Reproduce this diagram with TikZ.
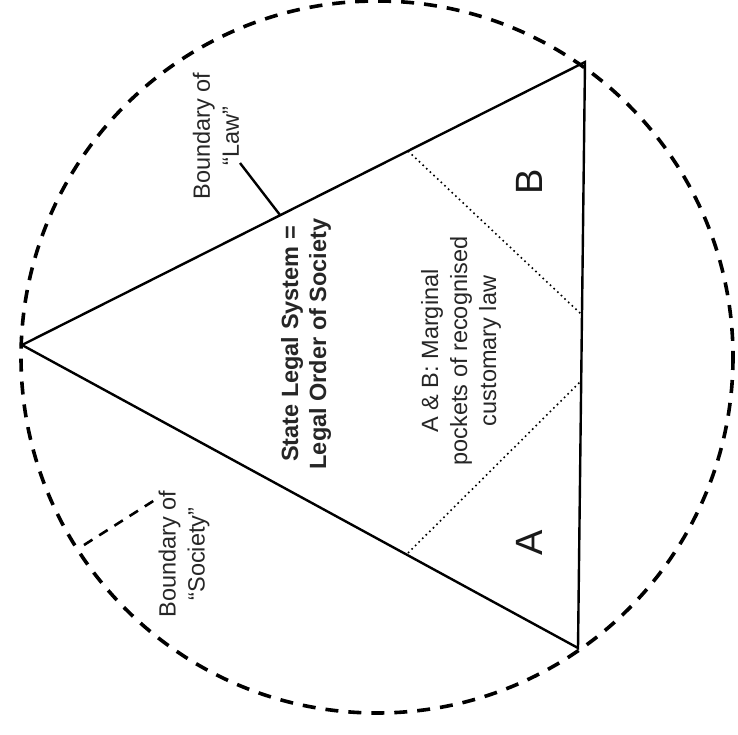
\documentclass[tikz,border=0pt]{standalone}
\usepackage{fontspec}
\setmainfont{Liberation Sans}
\begin{document}
\begin{tikzpicture}[x=1pt,y=-1pt,
  lbl/.style={rotate=90, align=center, text=black!85, inner sep=0pt,
    font=\fontsize{23.5}{29}\selectfont},
  boldlbl/.style={lbl, font=\fontsize{23.5}{28}\selectfont\bfseries},
  biglbl/.style={rotate=90, text=black!90, inner sep=0pt, font=\fontsize{38}{40}\selectfont},
  bigdash/.style={line width=3.6pt, dash pattern=on 13pt off 10pt},
  ptrdash/.style={line width=2.6pt, dash pattern=on 10pt off 8pt},
  edge/.style={line width=2.4pt, line join=miter},
  dotline/.style={line width=1.6pt, dash pattern=on 1.6pt off 3.4pt},
  ptr/.style={line width=2.4pt}]
\useasboundingbox (0,0) rectangle (738,735);
% boundary of society
\draw[bigdash] (377,357) circle[radius=356];
% triangle
\coordinate (apex) at (22,345);
\coordinate (tr) at (585,62);
\coordinate (br) at (578,648);
\draw[edge] (apex) -- (tr) -- (br) -- cycle;
% dotted pockets
\coordinate (pa1) at (408,553);
\coordinate (pa2) at (580,382);
\coordinate (pb1) at (408,151);
\coordinate (pb2) at (581,314);
\draw[dotline] (pa1) -- (pa2);
\draw[dotline] (pb1) -- (pb2);
% labels
\node[lbl] (law) at (216,136) {Boundary of\\“Law”};
\coordinate (lawptr) at (240,163);
\coordinate (lawedge) at (280,215);
\draw[ptr] (lawptr) -- (lawedge);
\node[boldlbl] (state) at (306,344) {State Legal System =\\Legal Order of Society};
\node[lbl] (marg) at (461,351) {A \& B: Marginal\\pockets of recognised\\customary law};
\node[biglbl] (A) at (529,543) {A};
\node[biglbl] (B) at (529,182) {B};
\node[lbl] (soc) at (184,554) {Boundary of\\“Society”};
\coordinate (socc) at (84,545);
\coordinate (socp) at (158,498);
\draw[ptrdash] (socc) -- (socp);
\end{tikzpicture}
\end{document}
